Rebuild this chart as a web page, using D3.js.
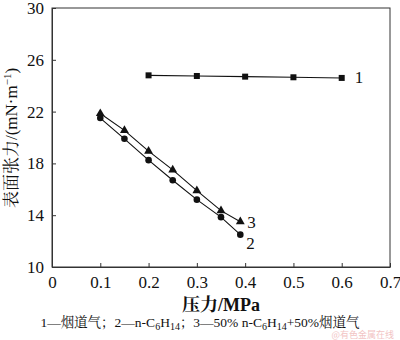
<!DOCTYPE html>
<html><head><meta charset="utf-8">
<script src="https://cdn.jsdelivr.net/npm/d3@7"></script>
<style>body{margin:0;background:#fff}svg{display:block}
.serif{font-family:"Liberation Serif","DejaVu Serif",serif}
.cjk{font-family:"Liberation Serif","Noto Serif CJK SC","Noto Sans CJK SC",serif}
</style>
</head><body>
<script>
const xTicks = [0, 0.1, 0.2, 0.3, 0.4, 0.5, 0.6, 0.7];
const yTicks = [10, 14, 18, 22, 26, 30];
const x1 = [0.2, 0.3, 0.4, 0.5, 0.6];
const y1 = [24.8, 24.75, 24.7, 24.65, 24.6];
const x2 = [0.1, 0.15, 0.2, 0.25, 0.3, 0.35, 0.39];
const y2 = [21.5, 19.9, 18.25, 16.7, 15.2, 13.85, 12.5];
const x3 = [0.1, 0.15, 0.2, 0.25, 0.3, 0.35, 0.39];
const y3 = [21.85, 20.55, 18.95, 17.5, 15.9, 14.35, 13.5];
const seriesLabels = ["1", "2", "3"];

const W = 400, H = 340;
const m = {l: 52, t: 8, r: 390, b: 267};
const svg = d3.select("body").append("svg").attr("width", W).attr("height", H)
  .attr("font-family", "Liberation Serif, DejaVu Serif, serif");
const x = d3.scaleLinear().domain([0, 0.7]).range([m.l, m.r]);
const y = d3.scaleLinear().domain([10, 30]).range([m.b, m.t]);
const col = "#111";

svg.append("rect").attr("x", m.l).attr("y", m.t).attr("width", m.r - m.l).attr("height", m.b - m.t)
  .attr("fill", "none").attr("stroke", "#333").attr("stroke-width", 1);

const xAxis = svg.append("g").attr("transform", `translate(0,${m.b})`)
  .call(d3.axisBottom(x).tickValues(xTicks).tickSizeInner(-4).tickSizeOuter(0).tickPadding(9)
    .tickFormat(d => d === 0 ? "0" : d3.format(".1f")(d)));
const yAxis = svg.append("g").attr("transform", `translate(${m.l},0)`)
  .call(d3.axisLeft(y).tickValues(yTicks).tickSizeInner(-4).tickSizeOuter(0).tickPadding(8));
[xAxis, yAxis].forEach(g => {
  g.attr("font-family", null).attr("font-size", null);
  g.select(".domain").attr("stroke", "#333");
  g.selectAll(".tick line").attr("stroke", "#333");
  g.selectAll(".tick text").attr("fill", col).attr("class", "serif").style("font-size", "17px");
});

const line = d3.line().x(d => x(d[0])).y(d => y(d[1]));
const d1 = x1.map((v, i) => [v, y1[i]]);
const d2 = x2.map((v, i) => [v, y2[i]]);
const d3s = x3.map((v, i) => [v, y3[i]]);
[d1, d2, d3s].forEach(d => svg.append("path").datum(d).attr("d", line)
  .attr("fill", "none").attr("stroke", col).attr("stroke-width", 1.1));

svg.selectAll(".sq").data(d1).enter().append("rect")
  .attr("x", d => x(d[0]) - 3).attr("y", d => y(d[1]) - 3).attr("width", 6).attr("height", 6).attr("fill", col);
svg.selectAll(".ci").data(d2).enter().append("circle")
  .attr("cx", d => x(d[0])).attr("cy", d => y(d[1])).attr("r", 3.3).attr("fill", col);
const tri = d3.symbol().type(d3.symbolTriangle).size(34);
svg.selectAll(".tr").data(d3s).enter().append("path")
  .attr("transform", d => `translate(${x(d[0])},${y(d[1])})`).attr("d", tri).attr("fill", col);

const lastPts = [d1[d1.length - 1], d2[d2.length - 1], d3s[d3s.length - 1]];
const offs = [[13, 5], [6, 14], [7, 6]];
lastPts.forEach((p, i) => svg.append("text").attr("x", x(p[0]) + offs[i][0]).attr("y", y(p[1]) + offs[i][1])
  .attr("class", "serif").text(seriesLabels[i]).attr("fill", col).style("font-size", "17px"));

svg.append("text").attr("x", 221).attr("y", 311).attr("text-anchor", "middle").attr("class", "cjk")
  .attr("fill", col).style("font-size", "18px").style("font-weight", "bold").text("压力/MPa");
svg.append("text").attr("transform", "translate(17,138) rotate(-90)").attr("text-anchor", "middle").attr("class", "cjk")
  .attr("fill", col).style("font-size", "17px")
  .html('表面张力/(mN·m<tspan dy="-6" font-size="11px">−1</tspan><tspan dy="6">)</tspan>');

svg.append("text").attr("x", 200).attr("y", 326.5).attr("text-anchor", "middle").attr("class", "cjk")
  .attr("fill", col).style("font-size", "13.5px")
  .html('1—烟道气；2—n-C<tspan dy="3" font-size="10px">6</tspan><tspan dy="-3">H</tspan><tspan dy="3" font-size="10px">14</tspan><tspan dy="-3">；3—50% n-C</tspan><tspan dy="3" font-size="10px">6</tspan><tspan dy="-3">H</tspan><tspan dy="3" font-size="10px">14</tspan><tspan dy="-3">+50%烟道气</tspan>');

svg.append("text").attr("x", 394).attr("y", 337.5).attr("text-anchor", "end")
  .attr("fill", "#f2c4c4").style("font-family", "'Noto Sans CJK SC', sans-serif").style("font-size", "9px").text("@有色金属在线");
</script>
</body></html>
